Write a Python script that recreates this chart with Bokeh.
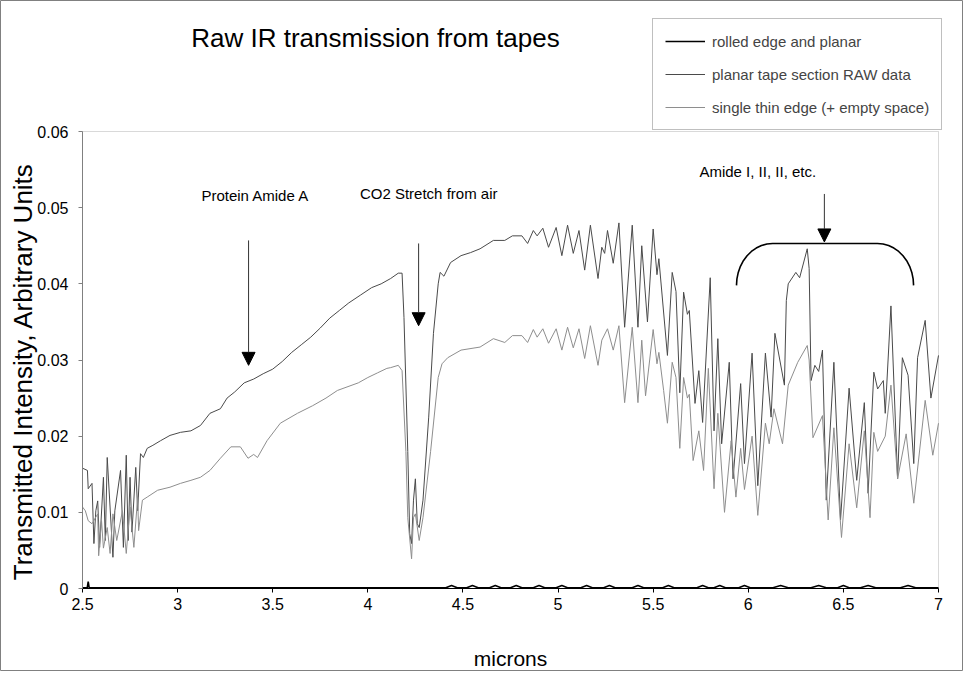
import math
from bokeh.plotting import figure
from bokeh.models import (Range1d, FixedTicker, Legend, LegendItem, Arrow,
                          NormalHead, Label, BoxAnnotation)
from bokeh.embed import file_html
from bokeh.resources import INLINE

# ---------------- data ----------------
planar_x = [2.50, 2.526, 2.53, 2.55, 2.56, 2.57, 2.58, 2.59, 2.61, 2.62, 2.63, 2.66,
            2.67, 2.70, 2.715, 2.73, 2.74, 2.75, 2.76, 2.78, 2.79, 2.805, 2.82, 2.84,
            2.87, 2.91, 2.96, 3.015, 3.07, 3.12, 3.17, 3.225, 3.26, 3.30, 3.35, 3.40,
            3.45, 3.50, 3.55, 3.60, 3.65, 3.70, 3.75, 3.80, 3.85, 3.90, 3.96, 4.02,
            4.07, 4.12, 4.16, 4.18, 4.19, 4.21, 4.22, 4.23, 4.24, 4.25, 4.26, 4.27,
            4.29, 4.32, 4.345, 4.37, 4.38, 4.40, 4.435, 4.49, 4.54, 4.59, 4.66, 4.72,
            4.76, 4.81, 4.84, 4.87, 4.89, 4.92, 4.95, 4.99, 5.02, 5.05, 5.08, 5.11,
            5.14, 5.17, 5.21, 5.23, 5.245, 5.26, 5.29, 5.32, 5.35, 5.39, 5.42, 5.44,
            5.47, 5.50, 5.52, 5.53, 5.575, 5.60, 5.62, 5.64, 5.66, 5.68, 5.69, 5.72,
            5.74, 5.76, 5.80, 5.82, 5.84, 5.86, 5.90, 5.92, 5.96, 5.98, 6.02, 6.05,
            6.09, 6.12, 6.14, 6.19, 6.20, 6.21, 6.25, 6.27, 6.31, 6.32, 6.33, 6.35,
            6.37, 6.39, 6.41, 6.45, 6.485, 6.53, 6.57, 6.61, 6.63, 6.66, 6.68, 6.71,
            6.72, 6.75, 6.785, 6.81, 6.84, 6.87, 6.89, 6.93, 6.96, 7.00]
planar_y = [0.0158, 0.0155, 0.0131, 0.0138, 0.0059, 0.0102, 0.0115, 0.0054, 0.0146, 0.0063, 0.0172, 0.0041,
            0.0102, 0.0155, 0.0054, 0.0175, 0.0063, 0.0146, 0.0074, 0.0159, 0.0102, 0.0177, 0.0172, 0.0184,
            0.0188, 0.0194, 0.0201, 0.0205, 0.0207, 0.0214, 0.0230, 0.0236, 0.0250, 0.0258, 0.0270, 0.0275,
            0.0282, 0.0288, 0.0298, 0.0310, 0.0320, 0.0330, 0.0342, 0.0355, 0.0365, 0.0375, 0.0385, 0.0395,
            0.0400, 0.0407, 0.0414, 0.0414, 0.0356, 0.0180, 0.0072, 0.0059, 0.0116, 0.0144, 0.0085, 0.0080,
            0.0116, 0.0225, 0.0335, 0.0400, 0.0415, 0.0410, 0.0428, 0.0437, 0.0441, 0.0446, 0.0457, 0.0457,
            0.0463, 0.0463, 0.0453, 0.0470, 0.0463, 0.0473, 0.0448, 0.0474, 0.0437, 0.0477, 0.0440, 0.0470,
            0.0418, 0.0477, 0.0407, 0.0448, 0.0440, 0.0470, 0.0427, 0.0480, 0.0343, 0.0477, 0.0343, 0.0450,
            0.0350, 0.0472, 0.0412, 0.0433, 0.0306, 0.0415, 0.0390, 0.0257, 0.0389, 0.0360, 0.0365, 0.0243,
            0.0286, 0.0218, 0.0408, 0.0207, 0.0328, 0.0190, 0.0297, 0.0144, 0.0269, 0.0164, 0.0309, 0.0135,
            0.0309, 0.0225, 0.0335, 0.0267, 0.0378, 0.0400, 0.0415, 0.0408, 0.0446, 0.0420, 0.0273, 0.0293,
            0.0285, 0.0313, 0.0116, 0.0297, 0.0090, 0.0263, 0.0142, 0.0244, 0.0125, 0.0284, 0.0262, 0.0273,
            0.0230, 0.0371, 0.0144, 0.0303, 0.0280, 0.0164, 0.0303, 0.0352, 0.0250, 0.0306]

thin_x = [2.50, 2.515, 2.53, 2.55, 2.58, 2.585, 2.60, 2.61, 2.63, 2.645, 2.66, 2.68,
          2.71, 2.73, 2.75, 2.77, 2.79, 2.795, 2.815, 2.84, 2.895, 2.96, 3.015, 3.07,
          3.12, 3.17, 3.225, 3.28, 3.33, 3.37, 3.40, 3.42, 3.47, 3.54, 3.63, 3.71,
          3.78, 3.84, 3.95, 4.00, 4.05, 4.10, 4.12, 4.16, 4.18, 4.20, 4.21, 4.23,
          4.24, 4.25, 4.27, 4.29, 4.33, 4.37, 4.39, 4.42, 4.49, 4.59, 4.66, 4.72,
          4.76, 4.81, 4.84, 4.87, 4.89, 4.92, 4.95, 4.99, 5.02, 5.05, 5.08, 5.11,
          5.14, 5.17, 5.21, 5.23, 5.26, 5.29, 5.32, 5.35, 5.39, 5.42, 5.44, 5.46,
          5.50, 5.52, 5.53, 5.555, 5.575, 5.60, 5.62, 5.64, 5.66, 5.68, 5.69, 5.71,
          5.74, 5.765, 5.79, 5.82, 5.84, 5.875, 5.91, 5.935, 5.96, 5.98, 6.02, 6.05,
          6.09, 6.11, 6.135, 6.18, 6.21, 6.26, 6.31, 6.32, 6.34, 6.39, 6.42, 6.45,
          6.49, 6.53, 6.57, 6.61, 6.64, 6.66, 6.68, 6.72, 6.75, 6.785, 6.83, 6.87,
          6.93, 6.97, 7.00]
thin_y = [0.0107, 0.0102, 0.0089, 0.0085, 0.0098, 0.0043, 0.0089, 0.0053, 0.0080, 0.0046, 0.0098, 0.0063,
          0.0102, 0.0046, 0.0107, 0.0054, 0.0120, 0.0076, 0.0116, 0.0120, 0.0129, 0.0133, 0.0138, 0.0142,
          0.0146, 0.0155, 0.0171, 0.0186, 0.0186, 0.0171, 0.0176, 0.0172, 0.0194, 0.0217, 0.0230, 0.0240,
          0.0250, 0.0260, 0.0270, 0.0277, 0.0283, 0.0289, 0.0290, 0.0293, 0.0286, 0.0180, 0.0093, 0.0039,
          0.0093, 0.0098, 0.0063, 0.0093, 0.0180, 0.0277, 0.0295, 0.0303, 0.0313, 0.0317, 0.0328, 0.0323,
          0.0332, 0.0332, 0.0323, 0.0340, 0.0330, 0.0341, 0.0322, 0.0341, 0.0313, 0.0343, 0.0316, 0.0341,
          0.0302, 0.0345, 0.0293, 0.0326, 0.0341, 0.0313, 0.0345, 0.0244, 0.0343, 0.0244, 0.0326, 0.0253,
          0.0340, 0.0295, 0.0310, 0.0260, 0.0217, 0.0297, 0.0277, 0.0184, 0.0277, 0.0250, 0.0255, 0.0168,
          0.0207, 0.0155, 0.0289, 0.0131, 0.0230, 0.0100, 0.0194, 0.0120, 0.0184, 0.0130, 0.0200, 0.0096,
          0.0217, 0.0190, 0.0236, 0.0190, 0.0267, 0.0297, 0.0319, 0.0300, 0.0198, 0.0227, 0.0090, 0.0211,
          0.0067, 0.0190, 0.0106, 0.0207, 0.0093, 0.0205, 0.0180, 0.0200, 0.0267, 0.0144, 0.0203, 0.0112,
          0.0247, 0.0175, 0.0217]

rolled_x = [2.50, 2.525, 2.53, 2.535, 4.41, 4.44, 4.47, 4.52, 4.55, 4.58, 4.64, 4.67, 4.70,
            4.75, 4.78, 4.81, 4.87, 4.90, 4.93, 4.99, 5.02, 5.05, 5.12, 5.15, 5.18, 5.24,
            5.27, 5.30, 5.39, 5.42, 5.45, 5.55, 5.58, 5.61, 5.73, 5.76, 5.79, 5.82, 5.85,
            5.88, 5.95, 5.98, 6.01, 6.13, 6.17, 6.21, 6.33, 6.37, 6.41, 6.47, 6.50, 6.53,
            6.59, 6.63, 6.67, 6.80, 6.84, 6.88, 7.00]
rolled_y = [0.0001, 0.0001, 0.0009, 0.0001, 0.0001, 0.0004, 0.0001, 0.0001, 0.0004, 0.0001, 0.0001, 0.0004, 0.0001,
            0.0001, 0.0004, 0.0001, 0.0001, 0.0004, 0.0001, 0.0001, 0.0004, 0.0001, 0.0001, 0.0004, 0.0001, 0.0001,
            0.0004, 0.0001, 0.0001, 0.0004, 0.0001, 0.0001, 0.0004, 0.0001, 0.0001, 0.0004, 0.0001, 0.0001, 0.0004,
            0.0001, 0.0001, 0.0004, 0.0001, 0.0001, 0.0004, 0.0001, 0.0001, 0.0004, 0.0001, 0.0001, 0.0004, 0.0001,
            0.0001, 0.0004, 0.0001, 0.0001, 0.0004, 0.0001, 0.0001]

x_ticks = [2.5, 3, 3.5, 4, 4.5, 5, 5.5, 6, 6.5, 7]
x_tick_labels = ["2.5", "3", "3.5", "4", "4.5", "5", "5.5", "6", "6.5", "7"]
y_ticks = [0, 0.01, 0.02, 0.03, 0.04, 0.05, 0.06]
y_tick_labels = ["0", "0.01", "0.02", "0.03", "0.04", "0.05", "0.06"]
x_min, x_max = 2.5, 7.0
y_min, y_max = 0.0, 0.06

series_labels = ["rolled edge and planar", "planar tape section RAW data",
                 "single thin edge (+ empty space)"]
title_text = "Raw IR transmission from tapes"
x_title = "microns"
y_title = "Transmitted Intensity, Arbitrary Units"

# annotations (data coordinates)
notes = [
    ("Protein Amide A", 3.41, 0.0516),
    ("CO2 Stretch from air", 4.32, 0.0519),
    ("Amide I, II, II, etc.", 6.05, 0.0548),
]
arrows = [  # x, y_start, y_end
    (3.373, 0.0457, 0.0293),
    (4.267, 0.0453, 0.0345),
    (6.400, 0.0518, 0.0455),
]
bracket_left, bracket_right = 5.938, 6.869
bracket_top, bracket_bottom = 0.0453, 0.0398
bracket_rx = 0.19

# ---------------- layout: the frame covers the whole figure ----------------
W, H = 963, 671
PX_L, PX_R, PX_T, PX_B = 82, 938, 131, 588      # plot area in pixels
sx = (x_max - x_min) / (PX_R - PX_L)
sy = (y_max - y_min) / (PX_B - PX_T)
xr = Range1d(x_min - PX_L * sx, x_max + (W - PX_R) * sx)
yr = Range1d(y_min - (H - PX_B) * sy, y_min + PX_B * sy)

FONT = "Liberation Sans"

p = figure(width=W, height=H, output_backend="svg", toolbar_location=None,
           x_range=xr, y_range=yr, title=None,
           min_border_left=0, min_border_right=0, min_border_top=0,
           min_border_bottom=0)
p.background_fill_color = "white"
p.border_fill_color = "white"
p.outline_line_color = "#808080"
p.outline_line_width = 1
p.xgrid.visible = False
p.ygrid.visible = False

# plot-area border
p.add_layout(BoxAnnotation(left=x_min, right=x_max, bottom=y_min, top=y_max,
                           fill_alpha=0, line_color="#808080", line_width=1,
                           level="underlay"))

r_planar = p.line(planar_x, planar_y, line_color="#4a4a4a", line_width=1)
r_thin = p.line(thin_x, thin_y, line_color="#8e8e8e", line_width=1)
r_rolled = p.line(rolled_x, rolled_y, line_color="black", line_width=1.6)

# axes fixed at the plot area edges
p.xaxis.fixed_location = y_min
p.xaxis.bounds = (x_min, x_max)
p.yaxis.fixed_location = x_min
p.yaxis.bounds = (y_min, y_max)
p.xaxis.ticker = FixedTicker(ticks=x_ticks)
p.xaxis.major_label_overrides = dict(zip(x_ticks, x_tick_labels))
p.yaxis.ticker = FixedTicker(ticks=y_ticks)
p.yaxis.major_label_overrides = dict(zip(y_ticks, y_tick_labels))
for ax in (p.xaxis, p.yaxis):
    ax.minor_tick_line_color = None
    ax.major_tick_in = 0
    ax.major_tick_out = 4
    ax.major_label_text_font = FONT
    ax.major_label_text_font_size = "16px"
    ax.major_label_text_color = "black"
p.xaxis.axis_line_color = "black"
p.xaxis.major_tick_line_color = "black"
p.yaxis.axis_line_color = "#808080"
p.yaxis.major_tick_line_color = "#808080"
p.xaxis.major_label_standoff = 5
p.yaxis.major_label_standoff = 10

# titles
p.add_layout(Label(x=x_min + (375 - PX_L) * sx, y=y_min + (PX_B - 37) * sy,
                   text=title_text, text_font=FONT, text_font_size="26px",
                   text_align="center", text_baseline="middle", text_color="black"))
p.add_layout(Label(x=x_min + (510 - PX_L) * sx, y=y_min + (PX_B - 658) * sy,
                   text=x_title, text_font=FONT, text_font_size="21px",
                   text_align="center", text_baseline="middle", text_color="black"))
p.add_layout(Label(x=x_min + (22 - PX_L) * sx, y=y_min + (PX_B - 371) * sy,
                   text=y_title, text_font=FONT, text_font_size="26px", angle=math.pi / 2,
                   text_align="center", text_baseline="middle", text_color="black"))

for txt, tx, ty in notes:
    p.add_layout(Label(x=tx, y=ty, text=txt, text_font=FONT, text_font_size="15px",
                       text_align="center", text_baseline="middle", text_color="black"))

for ax_, y0, y1 in arrows:
    p.add_layout(Arrow(x_start=ax_, y_start=y0, x_end=ax_, y_end=y1,
                       line_color="#333333", line_width=1,
                       end=NormalHead(size=13, fill_color="black", line_color="black")))

# bracket: two quarter ellipses joined by a straight top
bx, by = [], []
ry = bracket_top - bracket_bottom
for i in range(0, 11):
    t = math.pi / 2 * i / 10
    bx.append(bracket_left + bracket_rx * (1 - math.cos(t)))
    by.append(bracket_bottom + ry * math.sin(t))
for i in range(0, 11):
    t = math.pi / 2 * i / 10
    bx.append(bracket_right - bracket_rx * (1 - math.sin(t)))
    by.append(bracket_bottom + ry * math.cos(t))
p.line(bx, by, line_color="black", line_width=1.6)

legend = Legend(items=[LegendItem(label=series_labels[0], renderers=[r_rolled]),
                       LegendItem(label=series_labels[1], renderers=[r_planar]),
                       LegendItem(label=series_labels[2], renderers=[r_thin])],
                location=(652, H - 130), margin=0, padding=12, spacing=13,
                glyph_width=40, glyph_height=20, label_standoff=7,
                label_text_font=FONT, label_text_font_size="15px",
                border_line_color="#808080", border_line_width=1,
                background_fill_color="white", background_fill_alpha=1)
p.add_layout(legend, "center")

open("out.html", "w").write(file_html(p, INLINE))
